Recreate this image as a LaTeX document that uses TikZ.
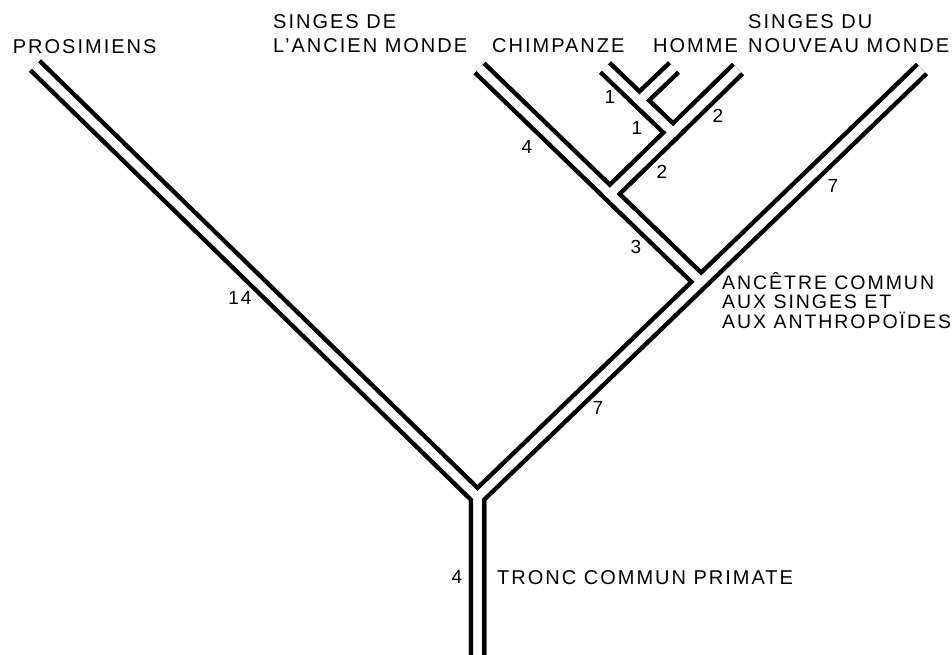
\documentclass[tikz,border=0pt]{standalone}
\usepackage{fontspec}
\setmainfont{Liberation Sans}[LetterSpace=10]
\newcommand{\lblfont}{\fontsize{20}{24}\selectfont}
\newcommand{\ancfont}{\fontsize{19.5}{19.5}\selectfont}
\newcommand{\numfont}{\fontsize{19}{20}\selectfont}
\begin{document}
\begin{tikzpicture}[x=1pt,y=-1pt,
  blk/.style={line width=17.5pt, black, line join=miter, line cap=butt},
  wht/.style={line width=8.5pt, white, line join=miter, line cap=butt},
  lbl/.style={inner sep=0pt, anchor=base west, font=\lblfont, align=left},
  anc/.style={inner sep=0pt, anchor=base west, font=\ancfont, align=left},
  num/.style={inner sep=0pt, font=\numfont}]
\useasboundingbox (0,0) rectangle (952,654);
\clip (0,0) rectangle (952,654);
% junctions and tips
\coordinate (bot) at (477.5,680);
\coordinate (C) at (477.5,497);
\coordinate (ptip) at (35,65.5);
\coordinate (nwtip) at (922,69);
\coordinate (A) at (701,281.8);
\coordinate (owtip) at (479.5,68);
\coordinate (J2) at (610,194);
\coordinate (h2tip) at (738,69);
\coordinate (J3) at (673,132.5);
\coordinate (chtip) at (605,67.5);
\coordinate (J4) at (639.5,100.5);
\coordinate (mantip) at (674,67.5);
% black pass
\draw[blk] (ptip) -- (C) -- (bot);
\draw[blk] (nwtip) -- (A) -- (C) -- (bot);
\draw[blk] (owtip) -- (J2) -- (A);
\draw[blk] (h2tip) -- (J3) -- (J2) -- (A);
\draw[blk] (chtip) -- (J4) -- (J3) -- (J2);
\draw[blk] (mantip) -- (J4) -- (J3);
% white pass
\draw[wht] (ptip) -- (C) -- (bot);
\draw[wht] (nwtip) -- (A) -- (C) -- (bot);
\draw[wht] (owtip) -- (J2) -- (A);
\draw[wht] (h2tip) -- (J3) -- (J2) -- (A);
\draw[wht] (chtip) -- (J4) -- (J3) -- (J2);
\draw[wht] (mantip) -- (J4) -- (J3);
% labels (base = last line)
\node[lbl] (lpro) at (12.7,53) {PROSIMIENS};
\node[lbl] (low) at (273,52) {SINGES DE\\L'ANCIEN MONDE};
\node[lbl] (lch) at (492,52) {CHIMPANZE};
\node[lbl] (lho) at (653,52) {HOMME};
\node[lbl] (lnw) at (748,52) {SINGES DU\\NOUVEAU MONDE};
\node[anc] (lanc) at (722,328) {ANCÊTRE COMMUN\\AUX SINGES ET\\AUX ANTHROPOÏDES};
\node[lbl] (ltr) at (497,584) {TRONC COMMUN PRIMATE};
% branch numbers
\node[num] (n14) at (240,298) {14};
\node[num] (n4a) at (527,147) {4};
\node[num] (n3) at (636,247) {3};
\node[num] (n2a) at (718,116) {2};
\node[num] (n2b) at (662,172) {2};
\node[num] (n1a) at (610,97) {1};
\node[num] (n1b) at (637,128) {1};
\node[num] (n7a) at (833,186) {7};
\node[num] (n7b) at (598,408) {7};
\node[num] (n4b) at (457,577) {4};
\end{tikzpicture}
\end{document}
